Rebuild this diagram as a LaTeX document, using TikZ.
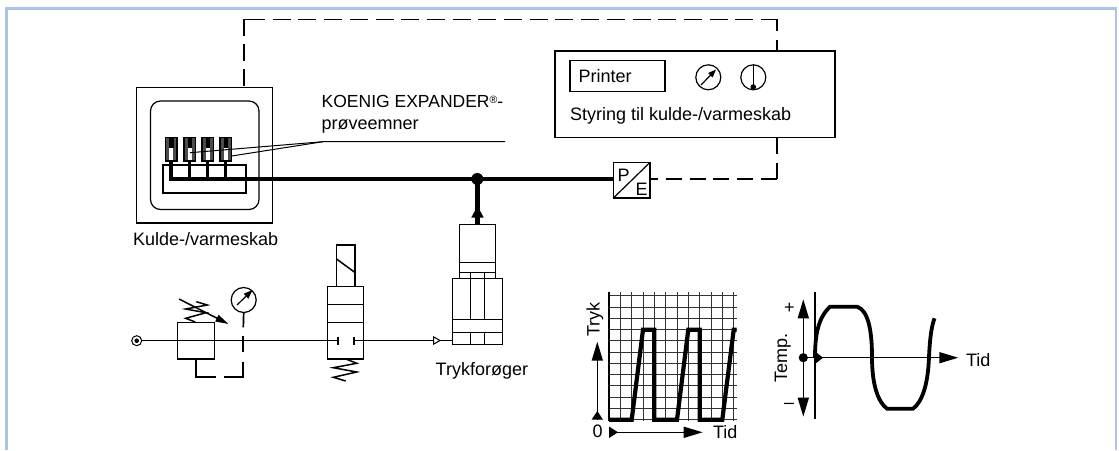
\documentclass[tikz,border=0pt]{standalone}
\usepackage{fontspec}
\setmainfont{Liberation Sans}
\usetikzlibrary{arrows.meta}
\definecolor{framecol}{HTML}{A9C4E8}
\tikzset{
  x=1pt,y=-1pt,
  thin line/.style={line width=1.5pt,draw=black},
  hair/.style={line width=1pt,draw=black},
  heavy/.style={line width=4.2pt,draw=black},
  mid/.style={line width=2.8pt,draw=black},
  dashline/.style={line width=1.2pt,draw=black},
  rectbox/.style={draw=black,line width=1.2pt,inner sep=0pt,outer sep=0pt,fill=white},
  label/.style={font=\fontsize{18}{20}\selectfont,inner sep=0pt,outer sep=0pt,anchor=base west},
  gaugecirc/.style={circle,draw=black,line width=1.2pt,inner sep=0pt,outer sep=0pt,minimum size=25pt,fill=white},
  big tip/.style={-{Triangle[length=19pt,width=11pt]}},
}
\begin{document}
\begin{tikzpicture}
\useasboundingbox (0,0) rectangle (1119,450);
% frame, open at the bottom
\draw[line width=2.6pt,draw=framecol] (6.5,450) -- (6.5,8.3) -- (1116,8.3) -- (1116,450);

% dashed control loop
\node[rectbox,minimum width=280pt,minimum height=86.7pt] (ctrl) at (695,94.4) {};
\node[rectbox,minimum width=135.6pt,minimum height=135.7pt] (cab) at (204.5,155.2) {};
\node[rectbox,minimum width=36.7pt,minimum height=35.7pt] (pe) at (631.7,180.2) {};
\coordinate (tl) at (244,19.3);
\coordinate (tr) at (777,19.3);
\coordinate (br) at (777,179);
\draw[dashline,dash pattern=on 17pt off 8pt] (tl) -- (tl |- cab.north);
\draw[dashline] (tl) -- (265,19.3);
\draw[dashline,dash pattern=on 18pt off 7.7pt] (272.7,19.3) -- (tr);
\draw[dashline,dash pattern=on 12pt off 8.5pt] (tr) -- (tr |- ctrl.north);
\draw[dashline,dash pattern=on 16.5pt off 8.5pt] (tr |- ctrl.south) -- (br);
\draw[dashline,dash pattern=on 16pt off 7.8pt] (br) -- (pe.east |- br);

% controller contents
\node[rectbox,minimum width=95pt,minimum height=31pt] (printer) at (617.5,76.2) {};
\node[label] (printertxt) at (578.5,82.7) {Printer};
\node[gaugecirc] (g1) at (708.3,77.3) {};
\draw[line width=1.2pt,-{Triangle[length=8pt,width=6pt]}] (701,85) -- (716,69.5);
\node[gaugecirc] (g2) at (753.3,77.3) {};
\fill (753.3,87) circle (2.8);
\draw[line width=1.2pt] (g2.north) -- (753.3,87);
\node[label] (styr) at (570,120) {Styring til kulde-/varmeskab};

% cabinet
\draw[line width=1.2pt,rounded corners=10pt] (150.5,101) rectangle (259,209.5);
\node[label] (kulde) at (133,245.7) {Kulde-/varmeskab};
% specimens
\foreach \n/\xx in {a/171.3,b/189.7,c/207.7,d/225.7}{
  \node[draw=black,line width=1.6pt,fill=black!70,minimum width=11.5pt,minimum height=23.4pt,inner sep=0pt,outer sep=0pt] (sp\n) at (\xx,149) {};
  \fill[black] (\xx-2.2,138) rectangle (\xx+2.2,148);
  \fill[white] (\xx-1.9,148) rectangle (\xx+1.9,160);
}
% manifold
\node[draw=black,line width=2.3pt,minimum width=82.7pt,minimum height=27.4pt,inner sep=0pt,outer sep=0pt] (mani) at (204.6,179) {};
\draw[heavy] (spa.south) -- (171.3,179) -- (pe.west |- 0,179);
\foreach \n in {b,c,d}{ \draw[mid] (sp\n.south) -- (sp\n.south |- 0,179); }
% leader
\coordinate (lead) at (323,141.7);
\coordinate (leadend) at (505,141.7);
\coordinate (lead1) at (190,152.7);
\coordinate (lead2) at (231.7,156);
\draw[hair] (leadend) -- (lead) -- (lead1);
\draw[hair] (lead) -- (lead2);
\node[label,font=\fontsize{17.5}{20}\selectfont] (koenig) at (321.7,107.7) {KOENIG EXPANDER\raisebox{4.6pt}{\fontsize{10.5}{10.5}\selectfont ®}-};
\node[label] (prove) at (321.7,129.7) {prøveemner};

% P/E
\draw[line width=1.2pt] (pe.south west) -- (pe.north east);
\node[label] (ptxt) at (617.5,181) {P};
\node[label] (etxt) at (635.5,195.7) {E};

% junction and booster feed
\fill (477.3,179) circle (6);
\node[rectbox,minimum width=36.4pt,minimum height=54pt] (bup) at (477.5,251.3) {};
\node[rectbox,minimum width=49.6pt,minimum height=66pt] (blow) at (477.5,311.3) {};
\draw[heavy] (bup.north) -- (477.5,179);
\fill (477.5,206) -- (483.7,217.5) -- (471.3,217.5) -- cycle;
\draw[thin line] (bup.west |- 0,262.7) -- (bup.east |- 0,262.7);
\draw[thin line] (bup.west |- 0,272.3) -- (bup.east |- 0,272.3);
\draw[thin line] (blow.west |- 0,319.3) -- (blow.east |- 0,319.3);
\draw[thin line] (blow.west |- 0,332.7) -- (blow.east |- 0,332.7);
\draw[thin line] (470.7,272.3) -- (470.7,319.3) (484.3,272.3) -- (484.3,319.3);
\draw[thin line] (470.7,332.7) -- (470.7,344.3) (484.3,332.7) -- (484.3,344.3);
\node[label] (tryk) at (435.7,375) {Trykforøger};

% supply line
\node[circle,draw=black,line width=1pt,minimum size=10pt,inner sep=0pt,outer sep=0pt] (src) at (136.7,340.7) {};
\fill (136.7,340.7) circle (2.3);
\node[rectbox,minimum width=36.6pt,minimum height=36.7pt,fill=none] (reg) at (196,340.7) {};
\node[rectbox,minimum width=36pt,minimum height=72.7pt,fill=none] (valve) at (345.7,322.7) {};
\draw[thin line] (src.east) -- (338,340.7);
\draw[thin line] (338,336.5) -- (338,345);
\draw[thin line] (354,336.5) -- (354,345);
\draw[thin line] (354,340.7) -- (blow.west |- 0,340.7);
\fill[white,draw=black,line width=1pt] (433.5,336.8) -- (440,340.5) -- (433.5,344.2) -- cycle;
\draw[thin line] (valve.west |- 0,304.3) -- (valve.east |- 0,304.3);
\draw[thin line] (valve.west |- 0,322.3) -- (valve.east |- 0,322.3);

% solenoid
\draw[thin line] (336.5,286.3) -- (336.5,245) -- (355,245) -- (355,286.3);
\draw[thin line] (336.5,259) -- (355,272.5);
% valve spring
\draw[thin line] (346,359) -- (356.7,363.3) -- (333.3,367.7) -- (356.7,372) -- (333.3,377.3) -- (345.7,381);
% regulator
\draw[thin line] (195.3,322) -- (185.7,318.3) -- (206,312.7) -- (185.7,309) -- (207.3,305) -- (196.3,301.7);
\draw[thin line,-{Triangle[length=13pt,width=7pt]}] (179,299) -- (228.5,324);
\node[gaugecirc] (g3) at (243.7,300) {};
\draw[line width=1.2pt,-{Triangle[length=9pt,width=6.5pt]}] (237,305) -- (252.5,290);
\coordinate (drainA) at (196,376.7);
\coordinate (drainB) at (243.3,376.7);
\draw[thin line,line width=1.7pt] (reg.south) -- (drainA) -- (215.5,376.7);
\draw[thin line,line width=1.7pt] (224,376.7) -- (drainB) -- (243.3,361.7);
\draw[thin line,line width=1.7pt] (243.3,336) -- (243.3,352);
\draw[thin line,line width=1.7pt] (g3.south) -- (243.3,327.3);

% pressure diagram
\foreach \i in {0,...,11}{
  \pgfmathsetmacro\xg{609+11.33*\i}
  \draw[line width=0.85pt,draw=black!80] (\xg,291.7) -- (\xg,421);
}
\foreach \i in {0,...,11}{
  \pgfmathsetmacro\yg{295.7+11.27*\i}
  \draw[line width=0.85pt,draw=black!80] (609,\yg) -- (736.7,\yg);
}
\draw[line width=1.4pt] (609,291.7) -- (609,421);
\draw[heavy,line join=miter] (609,419.7) -- (631.7,419.7) -- (643,329.7) -- (654.3,329.7) -- (654.3,419.7) -- (677,419.7) -- (688.3,329.7) -- (699.7,329.7) -- (699.7,419.7) -- (722.3,419.7) -- (733.7,329.7) -- (736.7,329.7);
\coordinate (py0) at (597.3,419.7);
\coordinate (py1) at (597.3,341.7);
\coordinate (px0) at (609,432.3);
\coordinate (px1) at (702.7,432.3);
\draw[thin line,big tip] (py0) -- (py1);
\fill (597.3,411) -- (603,419.7) -- (591.6,419.7) -- cycle;
\draw[thin line,big tip] (px0) -- (px1);
\fill (609,426.5) -- (618,432.3) -- (609,438) -- cycle;
\node[label,anchor=center] (zero) at (597.7,431.7) {0};
\node[label] (tidA) at (713,438) {Tid};
\node[label,rotate=90,anchor=center] (trykl) at (595,319.7) {Tryk};

% temperature diagram
\draw[line width=1.2pt] (815,291.7) -- (815,419.3);
\coordinate (ty0) at (803.3,357.7);
\coordinate (ty1) at (803.3,299.3);
\coordinate (ty2) at (803.3,416.7);
\coordinate (tx1) at (958.3,357.7);
\draw[thin line,big tip] (ty0) -- (ty1);
\draw[thin line,big tip] (ty0) -- (ty2);
\draw[thin line,big tip] (ty0) -- (tx1);
\fill (ty0) circle (4.6);
\fill (815,351.5) -- (823,357.7) -- (815,364) -- cycle;
\draw[line width=3.8pt] (815,357.7) .. controls (815,335) and (818,318) .. (830,306.7)
  -- (857,306.7) .. controls (868,310) and (872,330) .. (872,357)
  .. controls (872,385) and (878,402) .. (887,408.7)
  -- (913,408.7) .. controls (922,402) and (928,385) .. (929,357)
  .. controls (930,335) and (932,325) .. (934.5,318.3);
\node[label,anchor=center] (plus) at (789.3,308.3) {+};
\node[label,anchor=center] (minus) at (789,406) {–};
\node[label,rotate=90,anchor=center] (templ) at (782.7,358) {Temp.};
\node[label] (tidB) at (966,366) {Tid};
\end{tikzpicture}
\end{document}
